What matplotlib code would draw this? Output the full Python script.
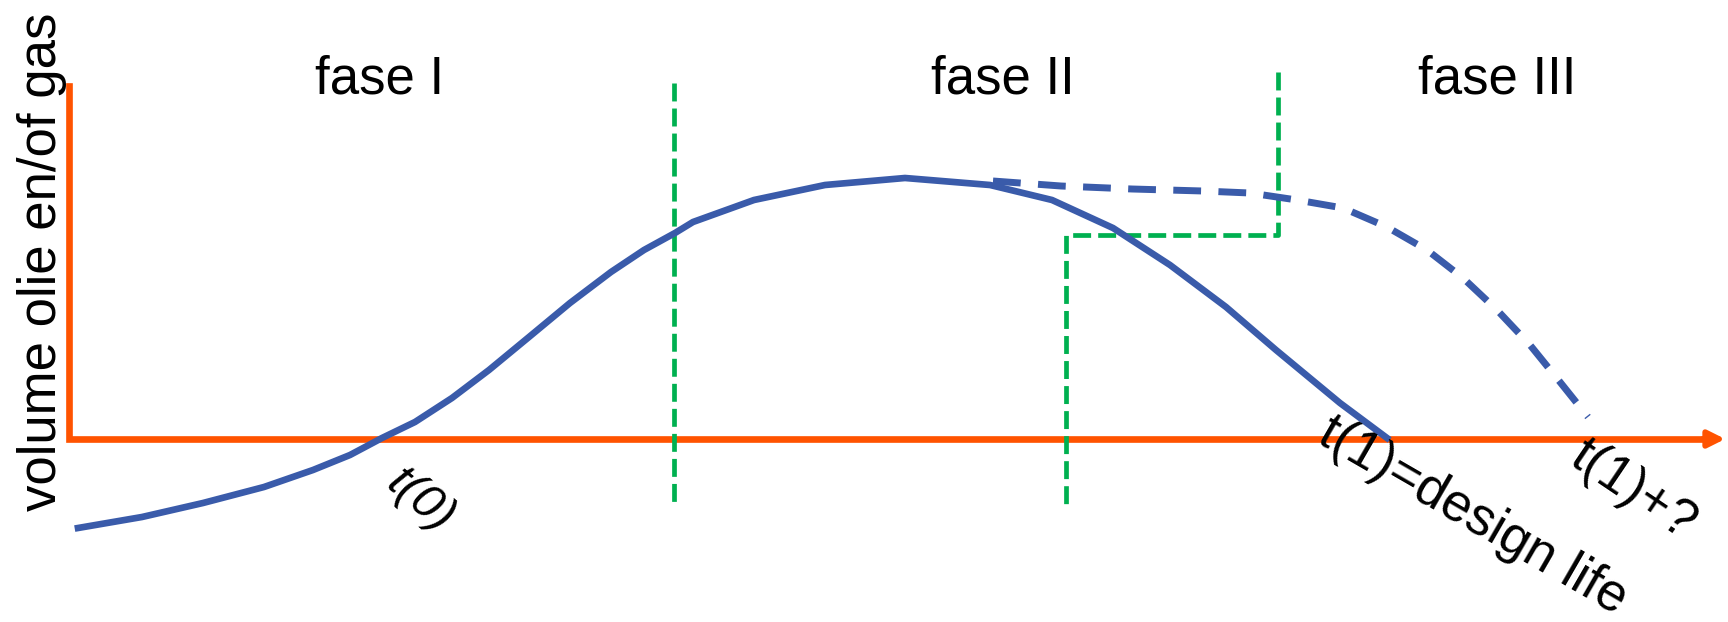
import matplotlib.pyplot as plt

plt.rcParams['font.family'] = ['Liberation Sans', 'DejaVu Sans']

# production curve (pixel coords of the sketch, y grows downwards)
prod_x = [78, 142, 203, 264, 313, 350, 382, 415, 452, 489, 529, 570, 611, 644,
          675, 693, 754, 825, 905, 990, 1052, 1113, 1170, 1226, 1276, 1340, 1387]
prod_y = [528, 517, 503, 487, 470, 455, 438, 422, 398, 370, 337, 303, 272, 250,
          233, 222, 200, 185, 178, 185, 200, 228, 265, 307, 350, 403, 438]

# extended life curve (dashed)
ext_x = [993, 1061, 1132, 1203, 1250, 1297, 1343, 1387, 1427, 1463, 1497, 1530, 1560, 1588]
ext_y = [181, 186, 189, 191, 193, 200, 208, 227, 250, 278, 310, 345, 382, 417]

phase_labels = ["fase I", "fase II", "fase III"]
phase_x = [380, 1003, 1497]

fig = plt.figure(figsize=(17.28, 6.22), dpi=100)
ax = fig.add_axes([0, 0, 1, 1])
ax.set_xlim(0, 1728)
ax.set_ylim(622, 0)
ax.axis('off')

orange = '#FF5300'
blue = '#3A5BAA'
green = '#00B050'

# axes of the sketch
ax.plot([69, 69, 1712], [86, 439, 439], color=orange, lw=4.8, solid_joinstyle='miter')
ax.annotate('', xy=(1728, 439), xytext=(1700, 439),
            arrowprops=dict(arrowstyle='-|>,head_length=1.0,head_width=0.5',
                            color=orange, lw=4))

# phase borders
ax.plot([674, 674], [83, 507], color=green, lw=3.4, ls=(0, (3.8, 1.5)))
ax.plot([1278, 1278, 1066, 1066], [72, 235, 235, 509], color=green, lw=3.4,
        ls=(0, (3.8, 1.5)))

ax.plot(prod_x, prod_y, color=blue, lw=4.8, solid_joinstyle='round')
ax.plot(ext_x, ext_y, color=blue, lw=5, ls=(0, (4, 2.5)))

for lab, x in zip(phase_labels, phase_x):
    ax.text(x, 80, lab, fontsize=38, ha='center', va='center')

ax.text(42, 262, "volume olie en/of gas", fontsize=38, rotation=90,
        ha='center', va='center')

ax.text(420, 501, "t(0)", fontsize=35, rotation=-40, style='italic',
        ha='center', va='center', rotation_mode='anchor')
ax.text(1473, 516, "t(1)=design life", fontsize=38, rotation=-30, ha='center',
        va='center', rotation_mode='anchor')
ax.text(1633, 490, "t(1)+?", fontsize=38, rotation=-34, ha='center', va='center',
        rotation_mode='anchor')

fig.savefig('out.png', dpi=100)
